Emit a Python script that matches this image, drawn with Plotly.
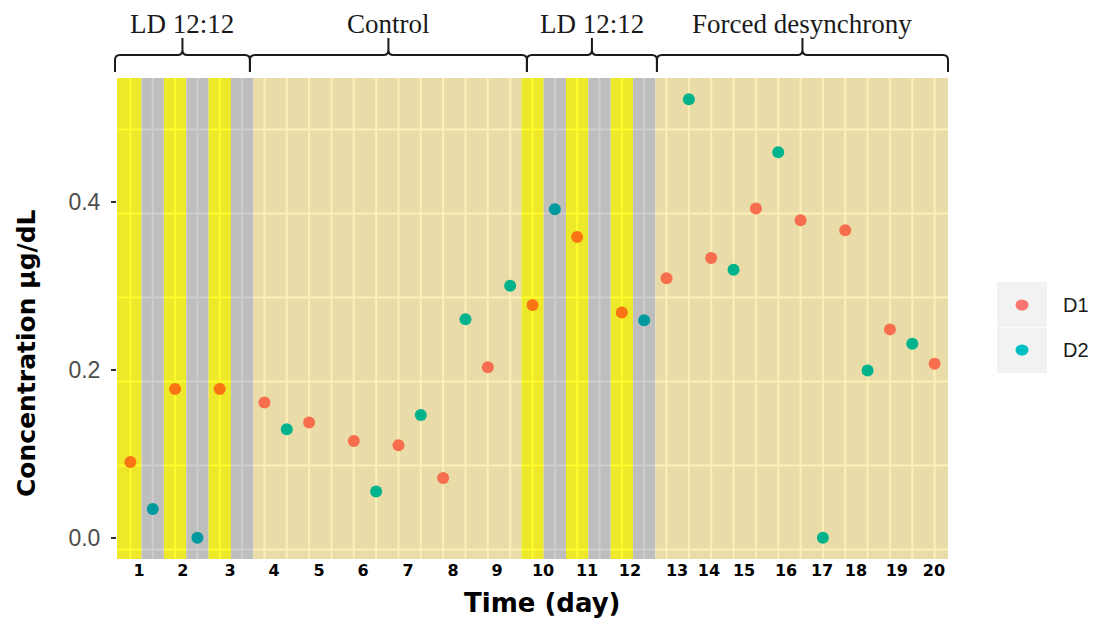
import plotly.graph_objects as go

# ---------------------------------------------------------------- data
# sampling slots (two per day) and the lighting regime of each slot
sample = list(range(1, 38))
regime = (["light", "dark", "light", "dark", "light", "dark"]
          + ["constant"] * 12
          + ["light", "dark", "light", "dark", "light", "dark"]
          + ["constant"] * 13)

d1_sample = [1, 3, 5, 7, 9, 11, 13, 15, 17, 19, 21, 23, 25, 27, 29, 31, 33, 35, 37]
d1_conc = [0.090, 0.177, 0.177, 0.161, 0.137, 0.115, 0.110, 0.071, 0.203, 0.277,
           0.358, 0.268, 0.309, 0.333, 0.392, 0.378, 0.366, 0.248, 0.207]

d2_sample = [2, 4, 8, 12, 14, 16, 18, 20, 24, 26, 28, 30, 32, 34, 36]
d2_conc = [0.034, 0.000, 0.129, 0.055, 0.146, 0.260, 0.300, 0.391, 0.259, 0.522,
           0.319, 0.459, 0.000, 0.199, 0.231]

day_labels = [str(d) for d in range(1, 21)]
# slot position at which each day label sits
day_tick_at = [1.39, 3.35, 5.46, 7.43, 9.44, 11.41, 13.43, 15.44, 17.41, 19.47,
               21.44, 23.36, 25.47, 26.90, 28.47, 30.35, 31.96, 33.48, 35.31, 36.97]

phase_labels = ["LD 12:12", "Control", "LD 12:12", "Forced desynchrony"]
phase_edges = [0.31, 6.35, 18.75, 24.57, 37.6]  # slot units

y_tick_vals = [0.0, 0.2, 0.4]
y_tick_text = ["0.0", "0.2", "0.4"]

# ---------------------------------------------------------------- style
W, H = 1100, 622
M_L, M_R, M_T, M_B = 117, 152, 78, 63
X_RANGE = [0.4, 37.6]
Y_RANGE = [-0.0254, 0.5473]

PANEL_GREY = 235
REGIME_FILL = {"light": (237, 232, 42), "dark": (190, 190, 190), "constant": (233, 220, 168)}
SERIES_RGB = {"D1": (248, 118, 109), "D2": (0, 191, 196)}
GRID_Y = [v - 0.014 for v in (0.0, 0.1, 0.2, 0.3, 0.4, 0.5)]


def rgb(c):
    return "rgb(%d,%d,%d)" % tuple(int(round(max(0, min(255, v)))) for v in c)


def tinted(base, fill):
    return tuple(b * f / PANEL_GREY for b, f in zip(base, fill))


def grid_rgb(fill):
    return tuple(f * 255 / PANEL_GREY for f in fill)


def px_x(px):
    return (px - M_L) / (W - M_L - M_R)


def px_y(py):
    return (H - M_B - py) / (H - M_T - M_B)


def slot_x(u):
    return (u - X_RANGE[0]) / (X_RANGE[1] - X_RANGE[0])


# ---------------------------------------------------------------- background
shapes = []
runs, start = [], 0
for i in range(1, len(sample) + 1):
    if i == len(sample) or regime[i] != regime[start]:
        runs.append((start, i - 1))
        start = i

for a, b in runs:
    x0 = sample[a] - 0.5 if a > 0 else X_RANGE[0] - 1
    x1 = sample[b] + 0.5 if b < len(sample) - 1 else X_RANGE[1] + 1
    fill = REGIME_FILL[regime[a]]
    shapes.append(dict(type="rect", xref="x", yref="paper", x0=x0, x1=x1, y0=0, y1=1,
                       fillcolor=rgb(fill), line_width=0, layer="below"))
    for gy in GRID_Y:
        shapes.append(dict(type="line", xref="x", yref="y", x0=x0, x1=x1, y0=gy, y1=gy,
                           line=dict(color=rgb(grid_rgb(fill)), width=2), layer="below"))

for s, r in zip(sample, regime):
    shapes.append(dict(type="line", xref="x", yref="paper", x0=s, x1=s, y0=0, y1=1,
                       line=dict(color=rgb(grid_rgb(REGIME_FILL[r])), width=2), layer="below"))

# ---------------------------------------------------------------- phase braces
annotations = []
yb, ym, yp = px_y(72), px_y(55), px_y(38)
rx = 5 / (W - M_L - M_R)
ry = 5 / (H - M_T - M_B)
for label, e0, e1 in zip(phase_labels, phase_edges[:-1], phase_edges[1:]):
    x0, x1 = slot_x(e0), slot_x(e1)
    mid = (x0 + x1) / 2
    path = (f"M{x0},{yb} L{x0},{ym - ry} Q{x0},{ym} {x0 + rx},{ym} "
            f"L{mid - rx},{ym} Q{mid},{ym} {mid},{ym + ry} L{mid},{yp} "
            f"L{mid},{ym + ry} Q{mid},{ym} {mid + rx},{ym} "
            f"L{x1 - rx},{ym} Q{x1},{ym} {x1},{ym - ry} L{x1},{yb}")
    shapes.append(dict(type="path", xref="paper", yref="paper", path=path,
                       line=dict(color="#1a1a1a", width=2), layer="above"))
    annotations.append(dict(text=label, xref="paper", yref="paper", x=mid, y=px_y(24),
                            xanchor="center", yanchor="middle", showarrow=False,
                            font=dict(family="Liberation Serif", size=27, color="#1a1a1a")))

# ---------------------------------------------------------------- traces
fig = go.Figure()
for name, xs, ys in (("D1", d1_sample, d1_conc), ("D2", d2_sample, d2_conc)):
    colors = [rgb(tinted(SERIES_RGB[name], REGIME_FILL[regime[s - 1]])) for s in xs]
    fig.add_trace(go.Scatter(x=xs, y=ys, mode="markers", name=name, showlegend=False,
                             marker=dict(size=12, color=colors, line=dict(width=0))))

# ---------------------------------------------------------------- legend
lx0, lx1 = px_x(997), px_x(1047)
shapes.append(dict(type="rect", xref="paper", yref="paper", x0=lx0, x1=lx1,
                   y0=px_y(373), y1=px_y(282), fillcolor="#F2F2F2", line_width=0))
shapes.append(dict(type="line", xref="paper", yref="paper", x0=lx0, x1=lx1,
                   y0=px_y(327.5), y1=px_y(327.5), line=dict(color="#FAFAFA", width=1)))
for name, cy in (("D1", 305), ("D2", 350)):
    shapes.append(dict(type="circle", xref="paper", yref="paper",
                       xsizemode="pixel", ysizemode="pixel",
                       xanchor=px_x(1022), yanchor=px_y(cy),
                       x0=-6.5, x1=6.5, y0=-5.5, y1=5.5,
                       fillcolor=rgb(SERIES_RGB[name]), line_width=0))
    annotations.append(dict(text=name, xref="paper", yref="paper", x=px_x(1061), y=px_y(cy),
                            xanchor="left", yanchor="middle", showarrow=False,
                            font=dict(family="Liberation Sans", size=20, color="#1a1a1a")))

# ---------------------------------------------------------------- axis titles
annotations.append(dict(text="Concentration µg/dL", xref="paper", yref="paper",
                        x=px_x(26), y=px_y(353), textangle=-90,
                        xanchor="center", yanchor="middle", showarrow=False,
                        font=dict(family="DejaVu Sans", size=25, color="black", weight="bold")))
annotations.append(dict(text="Time (day)", xref="paper", yref="paper",
                        x=px_x(542), y=px_y(603),
                        xanchor="center", yanchor="middle", showarrow=False,
                        font=dict(family="DejaVu Sans", size=26, color="black", weight="bold")))

fig.update_layout(
    width=W, height=H,
    margin=dict(l=M_L, r=M_R, t=M_T, b=M_B, pad=0),
    paper_bgcolor="white", plot_bgcolor="white",
    shapes=shapes, annotations=annotations, showlegend=False,
    xaxis=dict(range=X_RANGE, showgrid=False, zeroline=False, showline=False,
               tickmode="array", tickvals=day_tick_at, ticktext=day_labels, ticks="",
               tickfont=dict(family="DejaVu Sans", size=16, color="black", weight="bold")),
    yaxis=dict(range=Y_RANGE, showgrid=False, zeroline=False, showline=False,
               tickmode="array", tickvals=y_tick_vals, ticktext=y_tick_text,
               ticks="outside", ticklen=5, tickwidth=1.5, tickcolor="#333333",
               ticklabelstandoff=6,
               tickfont=dict(family="Liberation Sans", size=23, color="#4D4D4D")),
)

fig.write_html("out.html")
